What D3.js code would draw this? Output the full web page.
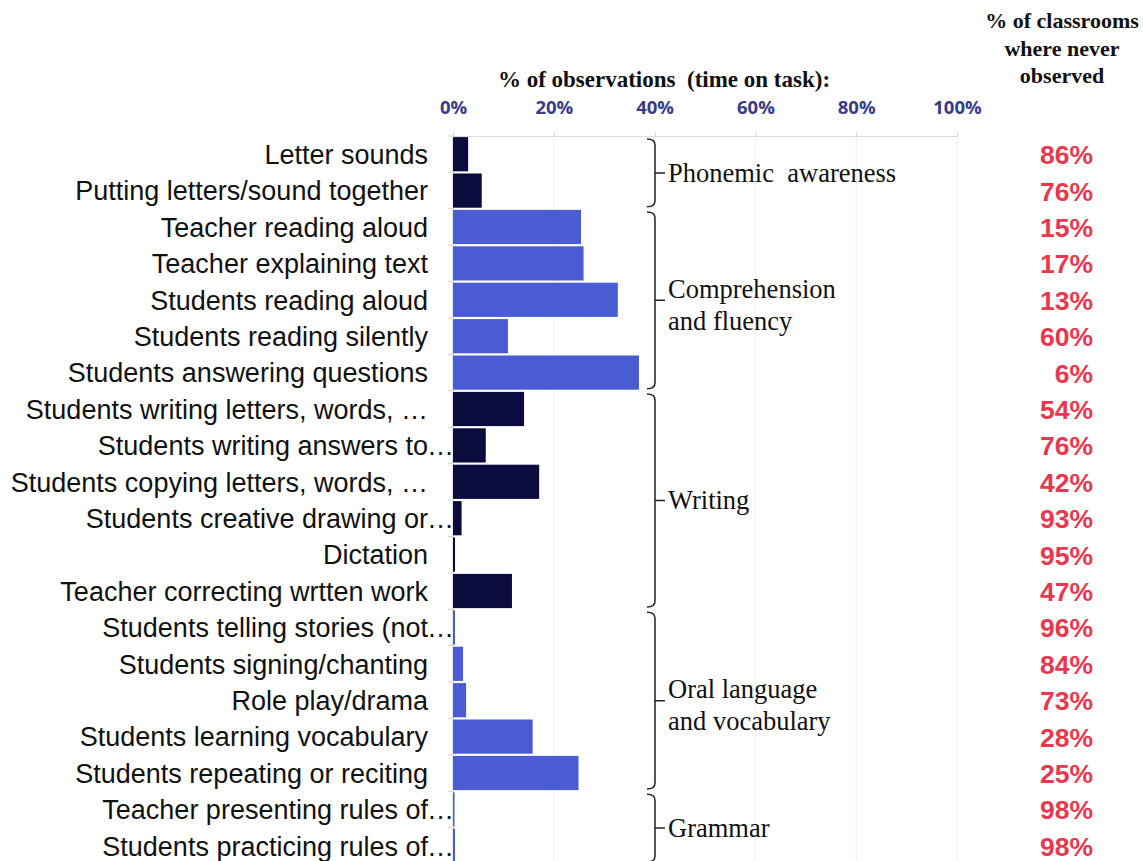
<!DOCTYPE html>
<html><head><meta charset="utf-8">
<script src="https://cdn.jsdelivr.net/npm/d3@7"></script>
<style>
html,body{margin:0;padding:0;background:#fff;}
svg{display:block;}
</style></head>
<body>
<svg id="chart" width="1143" height="861"></svg>
<script>
const categories = [
  "Letter sounds","Putting letters/sound together","Teacher reading aloud","Teacher explaining text",
  "Students reading aloud","Students reading silently","Students answering questions",
  "Students writing letters, words, \u2026","Students writing answers to\u2026","Students copying letters, words, \u2026",
  "Students creative drawing or\u2026","Dictation","Teacher correcting wrtten work",
  "Students telling stories (not\u2026","Students signing/chanting","Role play/drama",
  "Students learning vocabulary","Students repeating or reciting",
  "Teacher presenting rules of\u2026","Students practicing rules of\u2026"
];
const timeOnTask = [3.0,5.7,25.4,25.9,32.7,10.9,36.9,14.1,6.5,17.1,1.7,0.4,11.7,0.4,2.0,2.6,15.8,24.9,0.3,0.4];
const neverObserved = ["86%","76%","15%","17%","13%","60%","6%","54%","76%","42%","93%","95%","47%","96%","84%","73%","28%","25%","98%","98%"];
const groupNames = [["Phonemic  awareness"],["Comprehension","and fluency"],["Writing"],["Oral language","and vocabulary"],["Grammar"]];
const groupSizes = [2,5,6,5,2];
const groupColors = ["#0c0b3e","#4a5cd3","#0c0b3e","#4a5cd3","#4a5cd3"];
const xTicks = [0,20,40,60,80,100];

const svg = d3.select("#chart");
const x = d3.scaleLinear().domain([0,100]).range([453,957]);
const y = d3.scaleBand().domain(categories).range([136,864]).paddingInner(0.06).paddingOuter(0.03);

const groupOf = [];
groupSizes.forEach((n,g)=>{for(let i=0;i<n;i++) groupOf.push(g);});

// gridlines
svg.append("g").selectAll("line").data(xTicks.slice(1)).join("line")
  .attr("x1",d=>x(d)).attr("x2",d=>x(d)).attr("y1",136).attr("y2",864)
  .attr("stroke","#f0f0f3").attr("stroke-width",1);

// top axis
const ax = svg.append("g").attr("transform","translate(0,136)")
  .call(d3.axisTop(x).tickValues(xTicks).tickFormat(d=>d+"%").tickSize(4).tickPadding(18));
ax.select(".domain").attr("stroke","#dadade");
ax.selectAll(".tick line").attr("stroke","#d4d4d8");
ax.selectAll("text").attr("font-family","'Open Sans','Liberation Sans',sans-serif")
  .attr("font-weight","bold").attr("font-size",18.5).attr("fill","#363b8a");

// left axis line + ticks
svg.append("line").attr("x1",453).attr("x2",453).attr("y1",136).attr("y2",864).attr("stroke","#d0d0d5");
const bounds = categories.map(c=>y(c)-y.step()*y.paddingInner()/2);
svg.append("g").selectAll("line").data(bounds).join("line")
  .attr("x1",448).attr("x2",453).attr("y1",d=>d).attr("y2",d=>d).attr("stroke","#d0d0d5");

// bars
svg.append("g").selectAll("rect").data(categories).join("rect")
  .attr("x",x(0)).attr("y",d=>y(d)).attr("height",y.bandwidth())
  .attr("width",(d,i)=>x(timeOnTask[i])-x(0))
  .attr("fill",(d,i)=>groupColors[groupOf[i]]);

// category labels
const lab = svg.append("g").attr("font-family","'Liberation Sans',Arial,sans-serif").attr("font-size",27).attr("fill","#111");
categories.forEach((c,i)=>{
  const cy = y(c)+y.bandwidth()/2;
  const trunc = c.endsWith("\u2026") && !c.endsWith(" \u2026");
  const main = trunc ? c.slice(0,-1) : c;
  lab.append("text").attr("x",428).attr("y",cy).attr("dy","0.36em").attr("text-anchor","end").text(main);
  if(trunc) lab.append("text").attr("x",427).attr("y",cy).attr("dy","0.36em").attr("text-anchor","start").text("\u2026");
});

// never observed
svg.append("g").selectAll("text").data(categories).join("text")
  .attr("x",1093).attr("y",d=>y(d)+y.bandwidth()/2).attr("dy","0.38em").attr("text-anchor","end")
  .attr("font-family","'Liberation Sans',Arial,sans-serif").attr("font-weight","bold").attr("font-size",26.5)
  .attr("fill","#e8374f").text((d,i)=>neverObserved[i]);

// headers
svg.append("text").attr("x",664).attr("y",87).attr("text-anchor","middle")
  .attr("font-family","'Liberation Serif','Times New Roman',serif").attr("font-weight","bold").attr("font-size",23)
  .attr("fill","#111").attr("xml:space","preserve").text("% of observations  (time on task):");
const rh = svg.append("text").attr("text-anchor","middle")
  .attr("font-family","'Liberation Serif','Times New Roman',serif").attr("font-weight","bold").attr("font-size",22)
  .attr("fill","#111");
["% of classrooms","where never","observed"].forEach((t,i)=>{
  rh.append("tspan").attr("x",1062).attr("y",28+i*27.5).text(t);
});

// braces and group labels
const br = svg.append("g");
let start=0;
groupSizes.forEach((n,g)=>{
  const first = categories[start], last = categories[start+n-1];
  const y0 = y(first)+2, y1 = y(last)+y.bandwidth()-1;
  const ym = (y0+y1)/2;
  const xv = 655;
  const p = d3.path();
  p.moveTo(647,y0); p.quadraticCurveTo(xv,y0,xv,y0+6);
  p.lineTo(xv,y1-6); p.quadraticCurveTo(xv,y1,647,y1);
  p.moveTo(xv,ym); p.lineTo(665,ym);
  br.append("path").attr("d",p.toString()).attr("fill","none").attr("stroke","#222").attr("stroke-width",1.5);
  const lines = groupNames[g];
  const t = br.append("text").attr("font-family","'Liberation Serif','Times New Roman',serif")
    .attr("font-size",26.5).attr("fill","#111").attr("xml:space","preserve");
  lines.forEach((s,k)=>{
    t.append("tspan").attr("x",668).attr("y",ym+(k-(lines.length-1)/2)*32 + (lines.length>1?5:0)).attr("dy","0.33em").text(s);
  });
  start+=n;
});
</script>
</body></html>
